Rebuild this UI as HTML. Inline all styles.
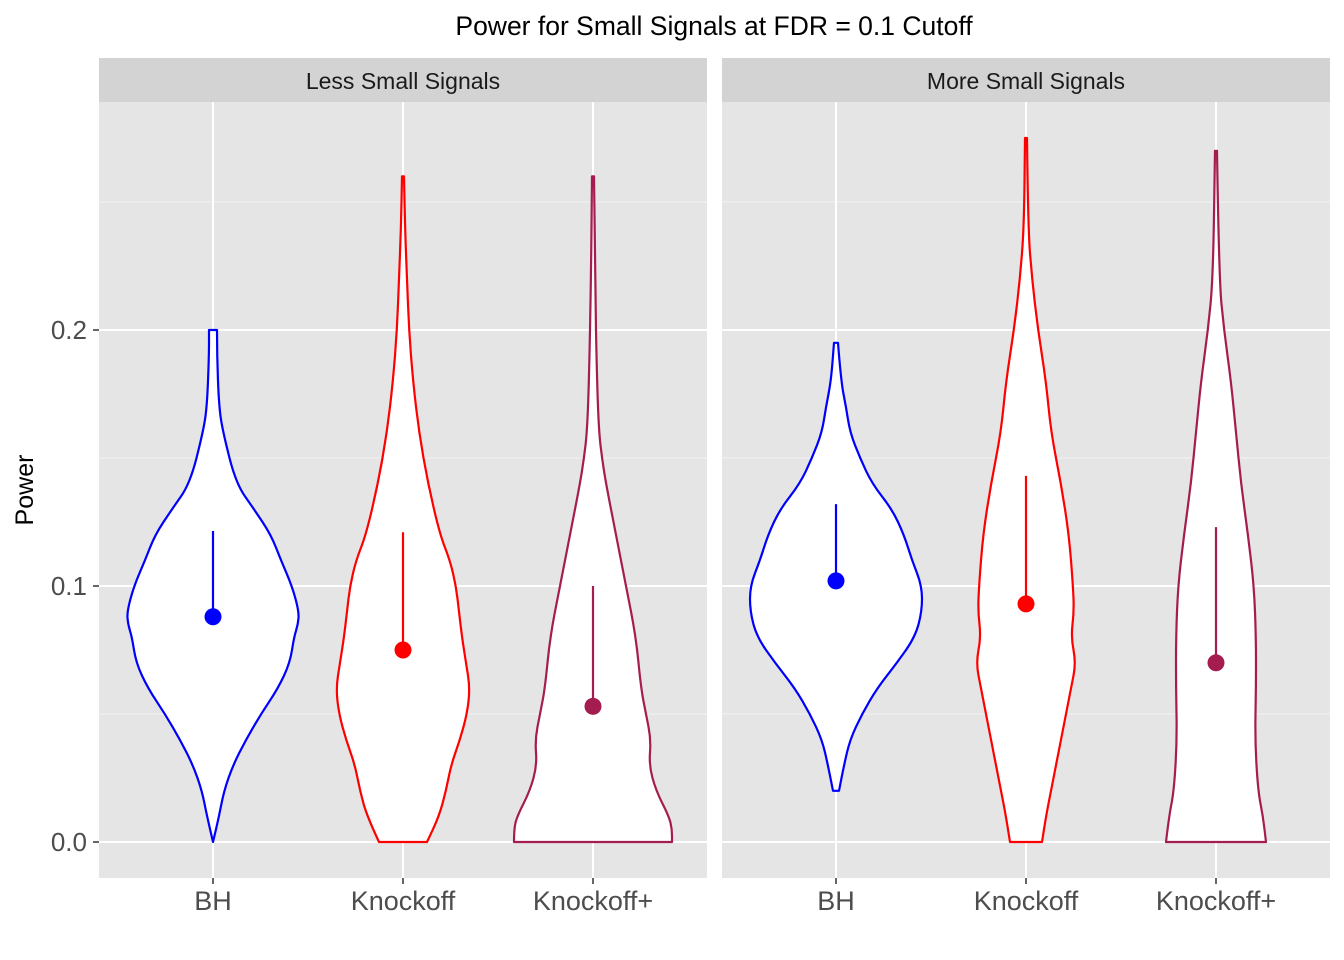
<!DOCTYPE html>
<html><head><meta charset="utf-8">
<style>
html,body{margin:0;padding:0;background:#fff;}
svg{display:block;font-family:"Liberation Sans",Arial,sans-serif;}
</style></head>
<body>
<svg id="chart" width="1344" height="960" viewBox="0 0 1344 960">
<rect x="0" y="0" width="1344" height="960" fill="#fff"/>
<text x="714" y="35" font-size="26.5" text-anchor="middle" fill="#000">Power for Small Signals at FDR = 0.1 Cutoff</text>
<text transform="translate(33,490) rotate(-90)" font-size="25" text-anchor="middle" fill="#000">Power</text>
<g id="plot"></g>
</svg>
<script>
const panels = ["Less Small Signals", "More Small Signals"];
const categories = ["BH", "Knockoff", "Knockoff+"];
const colors = ["#0000FF", "#FF0000", "#A51C50"];
const yTicks = [0, 0.1, 0.2];
const yTickLabels = ["0.0", "0.1", "0.2"];
const yMinor = [0.05, 0.15, 0.25];
const lsBH_y = [0,0.01,0.02,0.03,0.04,0.05,0.06,0.07,0.08,0.085,0.09,0.10,0.11,0.12,0.13,0.14,0.16,0.17,0.19,0.2];
const lsBH_w = [0,6,11,20,33,48,65,77,81,85,86,79,68,58,41,23,10,6,4,4];
const lsKO_y = [0,0.01,0.02,0.03,0.04,0.05,0.06,0.07,0.08,0.09,0.10,0.11,0.12,0.14,0.16,0.18,0.20,0.22,0.24,0.26];
const lsKO_w = [24,36,43,48,57,64,67,63,59,56,53,47,37,25,16,10,6,4,2,1];
const lsKP_y = [0,0.005,0.01,0.02,0.03,0.04,0.05,0.06,0.08,0.10,0.12,0.14,0.15,0.16,0.18,0.22,0.26];
const lsKP_w = [79,79,76,63,56,58,53,48,43,33,23,13,9,6,4,2,1];
const msBH_y = [0.02,0.03,0.04,0.05,0.06,0.07,0.08,0.09,0.10,0.11,0.12,0.13,0.14,0.15,0.16,0.17,0.18,0.195];
const msBH_w = [3,8,14,26,41,61,79,86,86,76,68,56,36,24,14,10,5,2];
const msKO_y = [0,0.01,0.02,0.03,0.04,0.05,0.06,0.07,0.08,0.09,0.10,0.12,0.14,0.16,0.18,0.20,0.22,0.24,0.275];
const msKO_w = [16,20,25,30,35,40,45,50,45,48,47,43,35,25,20,12,6,2,1];
const msKP_y = [0,0.01,0.02,0.04,0.06,0.08,0.10,0.12,0.14,0.16,0.18,0.20,0.22,0.27];
const msKP_w = [50,47,42,39,40,40,38,32,25,20,15,8,3,1];
const violinY = [[lsBH_y,lsKO_y,lsKP_y],[msBH_y,msKO_y,msKP_y]];
const violinW = [[lsBH_w,lsKO_w,lsKP_w],[msBH_w,msKO_w,msKP_w]];
const pointMean = [[0.088,0.075,0.053],[0.102,0.093,0.070]];
const segTop = [[0.1215,0.121,0.100],[0.132,0.143,0.123]];

const NS="http://www.w3.org/2000/svg";
const g=document.getElementById('plot');
function el(tag,attrs,parent){const e=document.createElementNS(NS,tag);for(const k in attrs)e.setAttribute(k,attrs[k]);(parent||g).appendChild(e);return e;}
const panelX=[99,722], panelW=608, pTop=102, pBottom=878;
function yS(v){return 842 - v*2560;}
function xS(p,i){return panelX[p] + 114 + i*190;}
function smoothSide(pts){
  let d='';
  for(let k=1;k<pts.length-1;k++){
    const mx=(pts[k][0]+pts[k+1][0])/2, my=(pts[k][1]+pts[k+1][1])/2;
    d+=' Q'+pts[k][0]+','+pts[k][1]+' '+mx+','+my;
  }
  const L=pts[pts.length-1];
  d+=' L'+L[0]+','+L[1];
  return d;
}

panels.forEach((name,p)=>{
  const pg=el('g',{});
  
  
  el('rect',{x:panelX[p],y:pTop,width:panelW,height:pBottom-pTop,fill:'#E5E5E5'},pg);
  const st=el('rect',{x:panelX[p],y:58,width:panelW,height:44,fill:'#D3D3D3'},pg);
  
  
  const stt=el('text',{x:panelX[p]+panelW/2,y:89,'font-size':'23','text-anchor':'middle',fill:'#1A1A1A'},pg);
  stt.textContent=name;
  
  
  yMinor.forEach(v=>{el('line',{x1:panelX[p],x2:panelX[p]+panelW,y1:yS(v),y2:yS(v),stroke:'#F2F2F2','stroke-width':1},pg);});
  yTicks.forEach(v=>{
    const l=el('line',{x1:panelX[p],x2:panelX[p]+panelW,y1:yS(v),y2:yS(v),stroke:'#fff','stroke-width':2},pg);
    
    
  });
  categories.forEach((c,i)=>{
    const cx=xS(p,i);
    el('line',{x1:cx,x2:cx,y1:pTop,y2:pBottom,stroke:'#fff','stroke-width':2},pg);
    el('line',{x1:cx,x2:cx,y1:pBottom,y2:pBottom+6,stroke:'#333','stroke-width':1.5},pg);
    const t=el('text',{x:cx,y:910,'font-size':'27','text-anchor':'middle',fill:'#4D4D4D'},pg);
    t.textContent=c;
    
    
    const ys=violinY[p][i], ws=violinW[p][i];
    const left=[], right=[];
    for(let k=0;k<ys.length;k++){left.push([cx-ws[k],yS(ys[k])]);}
    for(let k=ys.length-1;k>=0;k--){right.push([cx+ws[k],yS(ys[k])]);}
    let d='M'+left[0][0]+','+left[0][1]+smoothSide(left)+' L'+right[0][0]+','+right[0][1]+smoothSide(right)+' Z';
    const v=el('path',{d:d,fill:'#fff',stroke:colors[i],'stroke-width':2.2,'stroke-linejoin':'round'},pg);
    
    
    el('line',{x1:cx,x2:cx,y1:yS(pointMean[p][i]),y2:yS(segTop[p][i]),stroke:colors[i],'stroke-width':2.2},pg);
    const pt=el('circle',{cx:cx,cy:yS(pointMean[p][i]),r:8.5,fill:colors[i]},pg);
    
    
  });
});
yTicks.forEach((v,k)=>{
  el('line',{x1:93,x2:99,y1:yS(v),y2:yS(v),stroke:'#333','stroke-width':1.5});
  const t=el('text',{x:87,y:yS(v)+9,'font-size':'26','text-anchor':'end',fill:'#4D4D4D'});
  t.textContent=yTickLabels[k];
  
  
});
</script>
</body></html>
